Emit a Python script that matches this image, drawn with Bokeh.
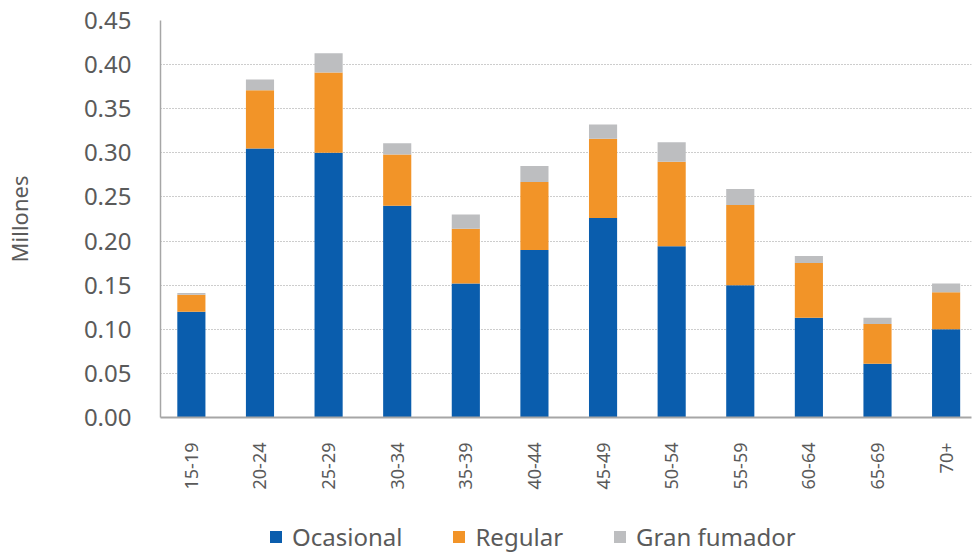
import math
from bokeh.plotting import figure
from bokeh.layouts import column
from bokeh.models import (ColumnDataSource, Range1d, FixedTicker, Legend, LegendItem)
from bokeh.embed import file_html
from bokeh.resources import INLINE

categories = ["15-19", "20-24", "25-29", "30-34", "35-39", "40-44",
              "45-49", "50-54", "55-59", "60-64", "65-69", "70+"]
ocasional = [0.120, 0.305, 0.300, 0.240, 0.152, 0.190, 0.226, 0.194, 0.150, 0.113, 0.061, 0.100]
regular = [0.019, 0.066, 0.091, 0.058, 0.062, 0.077, 0.090, 0.096, 0.091, 0.062, 0.045, 0.042]
gran_fumador = [0.002, 0.012, 0.022, 0.013, 0.016, 0.018, 0.016, 0.022, 0.018, 0.008, 0.007, 0.010]
series_names = ["Ocasional", "Regular", "Gran fumador"]
y_ticks = [0.00, 0.05, 0.10, 0.15, 0.20, 0.25, 0.30, 0.35, 0.40, 0.45]

colors = ["#0A5DAD", "#F29428", "#BDBEC0"]
FONT = "Noto Sans"
TXT = "#5A5A5A"

idx = list(range(len(categories)))
source = ColumnDataSource(dict(x=idx, ocasional=ocasional, regular=regular, gran=gran_fumador))
stack_cols = ["ocasional", "regular", "gran"]

p = figure(width=972, height=520, output_backend="svg", toolbar_location=None,
           x_range=Range1d(-0.45, 11.37), y_range=Range1d(0, 0.45),
           min_border_left=159, min_border_right=1, min_border_top=20, min_border_bottom=103)
p.outline_line_color = None

rs = p.vbar_stack(stack_cols, x="x", width=0.41, color=colors, line_color=None, source=source)

# axes
p.xaxis.ticker = FixedTicker(ticks=idx)
p.xaxis.major_label_overrides = {i: c for i, c in enumerate(categories)}
p.xaxis.major_label_orientation = math.pi / 2
p.xaxis.major_label_text_font = FONT
p.xaxis.major_label_text_font_size = "18px"
p.xaxis.major_label_text_color = TXT
p.xaxis.major_label_standoff = 19
p.xaxis.major_tick_line_color = None
p.xaxis.minor_tick_line_color = None
p.xaxis.axis_line_color = "#A6A6A6"
p.xaxis.axis_line_width = 2

p.yaxis.ticker = FixedTicker(ticks=y_ticks)
p.yaxis.formatter.use_scientific = False
p.yaxis.major_label_overrides = {t: f"{t:.2f}" for t in y_ticks}
p.yaxis.major_label_text_font = FONT
p.yaxis.major_label_text_font_size = "24px"
p.yaxis.major_label_text_color = TXT
p.yaxis.major_label_standoff = 23
p.yaxis.major_tick_line_color = None
p.yaxis.minor_tick_line_color = None
p.yaxis.axis_line_color = "#A6A6A6"
p.yaxis.axis_line_width = 1.5
p.yaxis.axis_label = "Millones"
p.yaxis.axis_label_text_font = FONT
p.yaxis.axis_label_text_font_size = "22px"
p.yaxis.axis_label_text_font_style = "normal"
p.yaxis.axis_label_text_color = TXT
p.yaxis.axis_label_standoff = 47

p.xgrid.grid_line_color = None
p.ygrid.ticker = FixedTicker(ticks=y_ticks[1:])
p.ygrid.grid_line_color = "#9A9A9A"
p.ygrid.grid_line_dash = "1 2"
p.ygrid.grid_line_width = 1.2

# legend strip below the chart (its stacked bars sit below its visible y range)
lg = figure(width=972, height=33, output_backend="svg", toolbar_location=None,
            x_axis_type=None, y_axis_type=None, min_border=0,
            x_range=Range1d(-0.45, 11.37), y_range=Range1d(5, 6))
lg.outline_line_color = None
lg_rs = lg.vbar_stack(stack_cols, x="x", width=0.41, color=colors, line_color=None, source=source)
legend = Legend(items=[LegendItem(label=n, renderers=[r]) for n, r in zip(series_names, lg_rs)],
                orientation="horizontal", location=(108, 0),
                label_text_font=FONT, label_text_font_size="24px", label_text_color=TXT,
                label_text_line_height=0.9,
                glyph_width=15, glyph_height=15, label_standoff=9, spacing=49,
                padding=0, margin=0, border_line_color=None, background_fill_alpha=0)
lg.add_layout(legend, "center")

layout = column(p, lg, spacing=0)
open("out.html", "w").write(file_html(layout, INLINE))
